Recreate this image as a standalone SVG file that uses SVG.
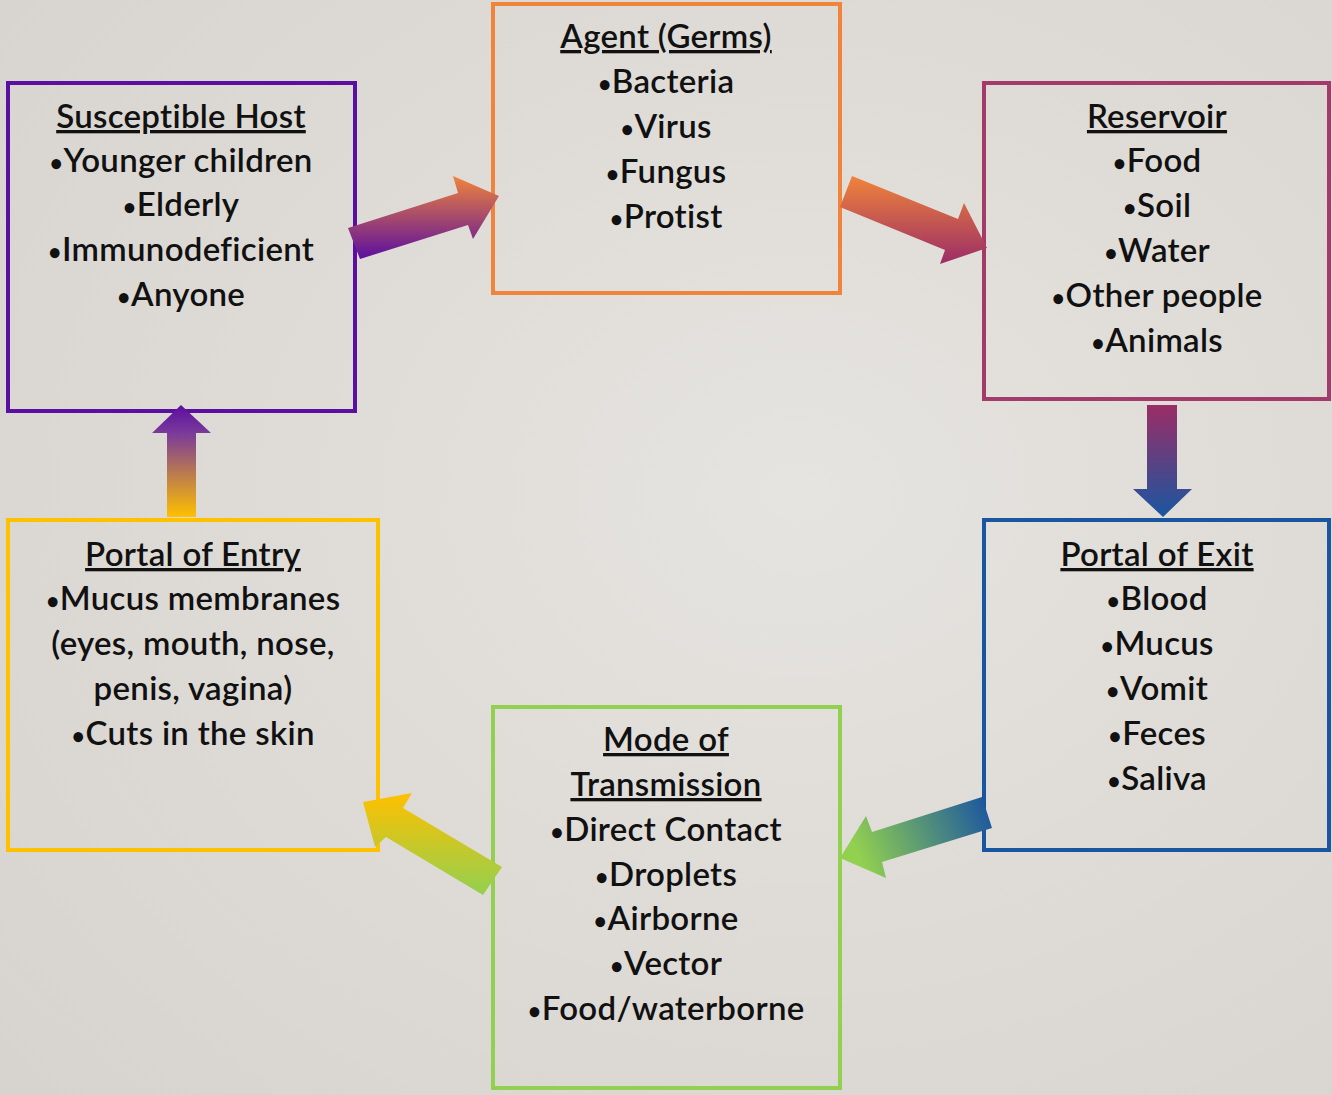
<svg xmlns="http://www.w3.org/2000/svg" width="1332" height="1095" viewBox="0 0 1332 1095">
<defs>
<radialGradient id="bg" cx="0.6" cy="0.45" r="0.8">
<stop offset="0" stop-color="#e6e4e0"/>
<stop offset="1" stop-color="#d7d3ce"/>
</radialGradient>
<linearGradient id="g1" x1="0" y1="176" x2="0" y2="259" gradientUnits="userSpaceOnUse">
<stop offset="0" stop-color="#f0843a"/><stop offset="1" stop-color="#5b0fa0"/>
</linearGradient>
<linearGradient id="g2" x1="0" y1="176" x2="0" y2="264" gradientUnits="userSpaceOnUse">
<stop offset="0" stop-color="#f0843a"/><stop offset="1" stop-color="#9b2d66"/>
</linearGradient>
<linearGradient id="g3" x1="0" y1="405" x2="0" y2="517" gradientUnits="userSpaceOnUse">
<stop offset="0" stop-color="#9b2d66"/><stop offset="1" stop-color="#1a56a0"/>
</linearGradient>
<linearGradient id="g4" x1="860" y1="860" x2="990" y2="805" gradientUnits="userSpaceOnUse">
<stop offset="0" stop-color="#92d050"/><stop offset="1" stop-color="#1a56a0"/>
</linearGradient>
<linearGradient id="g5" x1="0" y1="793" x2="0" y2="895" gradientUnits="userSpaceOnUse">
<stop offset="0" stop-color="#ffc000"/><stop offset="1" stop-color="#92d050"/>
</linearGradient>
<linearGradient id="g6" x1="0" y1="405" x2="0" y2="517" gradientUnits="userSpaceOnUse">
<stop offset="0" stop-color="#5b0fa0"/><stop offset="0.25" stop-color="#7a3a9a"/><stop offset="1" stop-color="#ffc000"/>
</linearGradient>
</defs>
<style>
.box{fill:none;stroke-width:4}
text{font-family:"Lato","Liberation Sans",sans-serif;font-size:33px;font-weight:600;letter-spacing:0.3px;fill:#111;text-anchor:middle}
.t{text-decoration:underline}
.b{font-size:24px}
</style>
<rect width="1332" height="1095" fill="url(#bg)"/>
<g id="host">
<rect class="box" x="8" y="83" width="347" height="328" stroke="#5b0fa0"/>
<text x="181" y="128" class="t">Susceptible Host</text>
<text x="181" y="172"><tspan class="b">•</tspan>Younger children</text>
<text x="181" y="216"><tspan class="b">•</tspan>Elderly</text>
<text x="181" y="261"><tspan class="b">•</tspan>Immunodeficient</text>
<text x="181" y="306"><tspan class="b">•</tspan>Anyone</text>
</g>
<g id="agent">
<rect class="box" x="493" y="4" width="347" height="289" stroke="#f0843a"/>
<text x="666" y="48" class="t">Agent (Germs)</text>
<text x="666" y="93"><tspan class="b">•</tspan>Bacteria</text>
<text x="666" y="138"><tspan class="b">•</tspan>Virus</text>
<text x="666" y="183"><tspan class="b">•</tspan>Fungus</text>
<text x="666" y="228"><tspan class="b">•</tspan>Protist</text>
</g>
<g id="reservoir">
<rect class="box" x="984" y="83" width="345" height="316" stroke="#a33a6a"/>
<text x="1157" y="128" class="t">Reservoir</text>
<text x="1157" y="172"><tspan class="b">•</tspan>Food</text>
<text x="1157" y="217"><tspan class="b">•</tspan>Soil</text>
<text x="1157" y="262"><tspan class="b">•</tspan>Water</text>
<text x="1157" y="307"><tspan class="b">•</tspan>Other people</text>
<text x="1157" y="352"><tspan class="b">•</tspan>Animals</text>
</g>
<g id="exit">
<rect class="box" x="984" y="520" width="345" height="330" stroke="#1a56a0"/>
<text x="1157" y="566" class="t">Portal of Exit</text>
<text x="1157" y="610"><tspan class="b">•</tspan>Blood</text>
<text x="1157" y="655"><tspan class="b">•</tspan>Mucus</text>
<text x="1157" y="700"><tspan class="b">•</tspan>Vomit</text>
<text x="1157" y="745"><tspan class="b">•</tspan>Feces</text>
<text x="1157" y="790"><tspan class="b">•</tspan>Saliva</text>
</g>
<g id="mode">
<rect class="box" x="493" y="707" width="347" height="381" stroke="#92d050"/>
<text x="666" y="751" class="t">Mode of</text>
<text x="666" y="796" class="t">Transmission</text>
<text x="666" y="841"><tspan class="b">•</tspan>Direct Contact</text>
<text x="666" y="886"><tspan class="b">•</tspan>Droplets</text>
<text x="666" y="930"><tspan class="b">•</tspan>Airborne</text>
<text x="666" y="975"><tspan class="b">•</tspan>Vector</text>
<text x="666" y="1020"><tspan class="b">•</tspan>Food/waterborne</text>
</g>
<g id="entry">
<rect class="box" x="8" y="520" width="370" height="330" stroke="#ffc000"/>
<text x="193" y="566" class="t">Portal of Entry</text>
<text x="193" y="610"><tspan class="b">•</tspan>Mucus membranes</text>
<text x="193" y="655">(eyes, mouth, nose,</text>
<text x="193" y="700">penis, vagina)</text>
<text x="193" y="745"><tspan class="b">•</tspan>Cuts in the skin</text>
</g>
<g id="connectors">
<polygon points="348,228 458,193 453,176 499,196 473,239 468,225 360,259" fill="url(#g1)"/>
<polygon points="852,176 958,219 964,203 987,248 940,264 945,250 840,207" fill="url(#g2)"/>
<polygon points="1147,405 1177,405 1177,489 1192,489 1163,517 1133,489 1147,489" fill="url(#g3)"/>
<polygon points="982,797 992,828 882,862 886,878 840,858 866,816 872,832" fill="url(#g4)"/>
<polygon points="502,867 483,895 386,837 375,847 363,802 412,793 403,808" fill="url(#g5)"/>
<polygon points="167,517 196,517 196,433 211,433 181,405 152,433 167,433" fill="url(#g6)"/>
</g>
</svg>
